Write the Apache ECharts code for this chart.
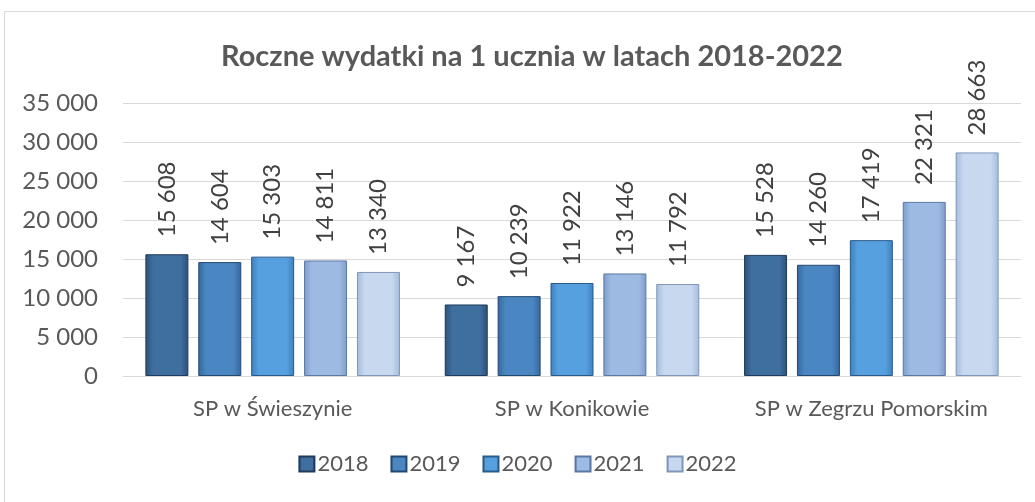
<!DOCTYPE html>
<html><head><meta charset="utf-8">
<script src="https://cdn.jsdelivr.net/npm/echarts@6/dist/echarts.min.js"></script>
<style>html,body{margin:0;padding:0;background:#fff}#c{width:1035px;height:502px}</style>
</head><body><div id="c"></div>
<script>
const categories = ['SP w Świeszynie', 'SP w Konikowie', 'SP w Zegrzu Pomorskim'];
const years = ['2018', '2019', '2020', '2021', '2022'];
const v2018 = [15608, 9167, 15528];
const v2019 = [14604, 10239, 14260];
const v2020 = [15303, 11922, 17419];
const v2021 = [14811, 13146, 22321];
const v2022 = [13340, 11792, 28663];
const yTicks = [0, 5000, 10000, 15000, 20000, 25000, 30000, 35000];

const seriesData = [v2018, v2019, v2020, v2021, v2022];
const palette = [
  {base:'#3f6f9f', edge:'#2b5079', border:'#1f3a5a'},
  {base:'#4a86c2', edge:'#34679b', border:'#24496f'},
  {base:'#57a0df', edge:'#3d7fbd', border:'#2a5a88'},
  {base:'#9dbbe2', edge:'#7c9ccb', border:'#5a78a4'},
  {base:'#c7d8ef', edge:'#a5bbdc', border:'#8096b8'}
];
const fmt = v => String(v).replace(/\B(?=(\d{3})+(?!\d))/g, ' ');
const FONT = 'Lato';

function grad(p){
  return new echarts.graphic.LinearGradient(0,0,1,0,[
    {offset:0,color:p.edge},{offset:0.18,color:p.base},
    {offset:0.82,color:p.base},{offset:1,color:p.edge}]);
}

const chart = echarts.init(document.getElementById('c'));
chart.setOption({
  backgroundColor:'#fff',
  animation:false,
  textStyle:{fontFamily:FONT},
  title:{text:'Roczne wydatki na 1 ucznia w latach 2018-2022',left:216,top:37,
    textStyle:{fontFamily:FONT,fontSize:29,fontWeight:'bold',color:'#595959'}},
  graphic:[{type:'rect',shape:{x:4.5,y:11.5,width:1040,height:520},
    style:{fill:'none',stroke:'#d9d9d9',lineWidth:1},silent:true}],
  legend:{bottom:22,left:'center',itemWidth:15,itemHeight:15,itemGap:22,icon:'rect',
    textStyle:{fontFamily:FONT,fontSize:22,color:'#595959',padding:[0,0,0,-2]},
    data:years},
  grid:{left:123,right:14,top:103,bottom:126,containLabel:false},
  xAxis:{type:'category',data:categories,
    axisLine:{lineStyle:{color:'#d9d9d9',width:1}},axisTick:{show:false},
    axisLabel:{interval:0,hideOverlap:false,fontFamily:FONT,fontSize:22,color:'#595959',margin:22}},
  yAxis:{type:'value',min:0,max:35000,interval:5000,
    axisLine:{show:false},axisTick:{show:false},
    splitLine:{lineStyle:{color:'#d9d9d9',width:1}},
    axisLabel:{fontFamily:FONT,fontSize:24,color:'#595959',margin:25,formatter:v=>fmt(v)}},
  series: seriesData.map((d,i)=>({
    name:years[i],type:'bar',data:d,barWidth:43,barGap:'23%',
    itemStyle:{color:grad(palette[i]),borderColor:palette[i].border,borderWidth:1},
    label:{show:true,position:'top',rotate:90,align:'left',verticalAlign:'middle',distance:17,
      fontFamily:FONT,fontSize:24,color:'#404040',formatter:p=>fmt(p.value)}
  }))
});
</script></body></html>
